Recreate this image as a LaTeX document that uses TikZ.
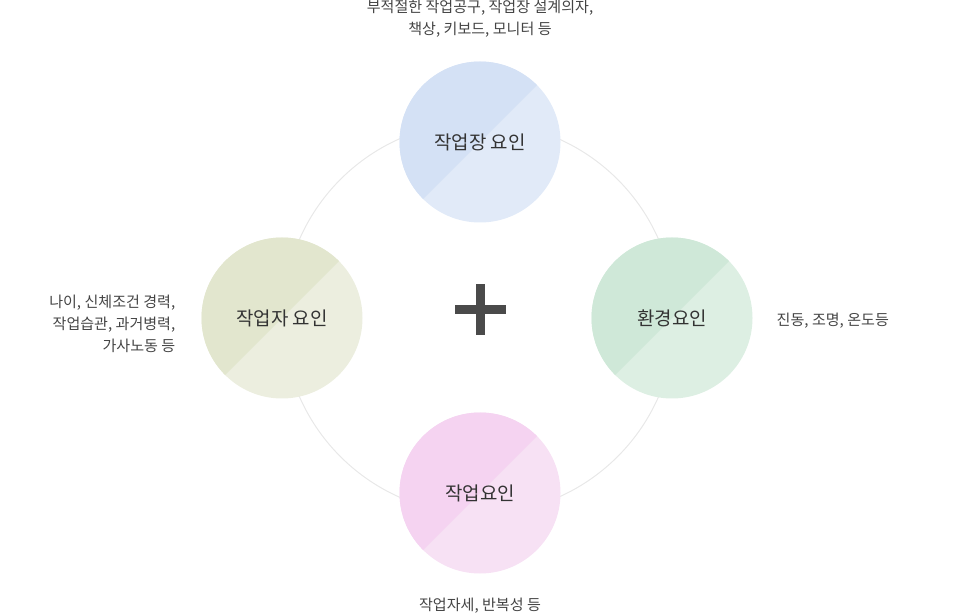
\documentclass[tikz,border=0pt]{standalone}
\usepackage{fontspec}
\setmainfont{Noto Sans CJK KR}
\usepackage{tikz}

\definecolor{ringgray}{HTML}{E8E8E8}
\definecolor{plusgray}{HTML}{4A4A4A}
\definecolor{labelgray}{HTML}{333333}
\definecolor{notegray}{HTML}{444444}
\definecolor{workplacedark}{HTML}{D4E1F5}
\definecolor{workplacelight}{HTML}{E1EAF8}
\definecolor{workerdark}{HTML}{E2E6CE}
\definecolor{workerlight}{HTML}{ECEEDF}
\definecolor{environmentdark}{HTML}{CFE8D8}
\definecolor{environmentlight}{HTML}{DDEFE3}
\definecolor{taskdark}{HTML}{F5D3F1}
\definecolor{tasklight}{HTML}{F7E1F4}

\begin{document}
\begin{tikzpicture}[x=0.75pt, y=-0.75pt,
    factor/.style 2 args={circle, minimum size=120.75pt, inner sep=0pt, fill=#2, text=labelgray,
        font=\fontsize{14.2}{16}\selectfont,
        path picture={\fill[#1] (path picture bounding box.north west) -- (path picture bounding box.north east) -- (path picture bounding box.south west) -- cycle;}},
    note/.style={text=notegray, font=\fontsize{11.3}{16.5}\selectfont}]
    \useasboundingbox (0,0) rectangle (960,616);
    \draw[ringgray, line width=0.75pt] (479,318) circle [radius=147pt];
    \fill[plusgray] (455,305) rectangle (506,314);
    \fill[plusgray] (476,284) rectangle (485,335);
    \node[factor={workplacedark}{workplacelight}] (workplace) at (480,142) {작업장 요인};
    \node[factor={workerdark}{workerlight}] (worker) at (282,318) {작업자 요인};
    \node[factor={environmentdark}{environmentlight}] (environment) at (672,318) {환경요인};
    \node[factor={taskdark}{tasklight}] (task) at (480,493) {작업요인};
    \node[note, align=center] (workplacenote) at (480,19) {부적절한 작업공구, 작업장 설계의자,\\책상, 키보드, 모니터 등};
    \node[note, align=right, anchor=east] (workernote) at (180,324) {나이, 신체조건 경력,\\작업습관, 과거병력,\\가사노동 등};
    \node[note, anchor=west] (environmentnote) at (772,321) {진동, 조명, 온도등};
    \node[note] (tasknote) at (480,606) {작업자세, 반복성 등};
\end{tikzpicture}
\end{document}
